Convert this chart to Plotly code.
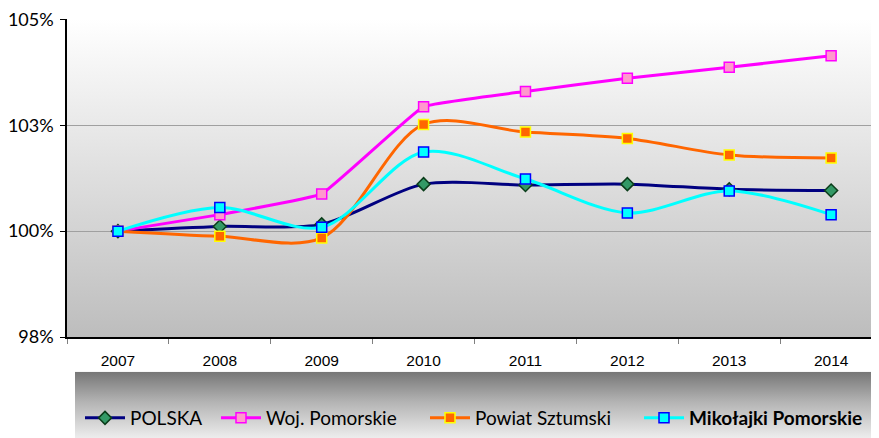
import base64
import plotly.graph_objects as go

years = ['2007', '2008', '2009', '2010', '2011', '2012', '2013', '2014']
polska = [100.0, 100.11, 100.16, 101.11, 101.09, 101.11, 100.99, 100.96]
woj_pomorskie = [100.0, 100.39, 100.88, 102.94, 103.30, 103.61, 103.87, 104.14]
powiat_sztumski = [100.0, 99.88, 99.84, 102.52, 102.34, 102.19, 101.80, 101.73]
mikolajki = [100.0, 100.56, 100.09, 101.87, 101.23, 100.43, 100.95, 100.39]

y_tickvals = [97.5, 100, 102.5, 105]
y_ticktext = ['98%', '100%', '103%', '105%']

# page body has an 8px margin; compensate so the chart fills the 879x438 window
OFF = 8
W, H = 879 - OFF, 438 - OFF
ML, MR, MT, MB = 66 - OFF, 0, 17 - OFF, 101


def grad_svg(stops):
    st = ''.join(f"<stop offset='{o}' stop-color='{c}'/>" for o, c in stops)
    svg = ("<svg xmlns='http://www.w3.org/2000/svg' width='100' height='100' preserveAspectRatio='none'>"
           "<defs><linearGradient id='g' x1='0' y1='0' x2='0' y2='1'>" + st +
           "</linearGradient></defs><rect width='100' height='100' fill='url(#g)'/></svg>")
    return 'data:image/svg+xml;base64,' + base64.b64encode(svg.encode()).decode()


fig = go.Figure()

series = [
    ('POLSKA', polska, '#000080', 'diamond', '#339966', '#0b3d1a', 0.8),
    ('Woj. Pomorskie', woj_pomorskie, '#FF00FF', 'square', '#FF99CC', '#FF00FF', 0.25),
    ('Powiat Sztumski', powiat_sztumski, '#FF6600', 'square', '#FF6600', '#FFFF00', 0.9),
    ('<b>Mikołajki Pomorskie</b>', mikolajki, '#00FFFF', 'square', '#00FFFF', '#0000FF', 0.9),
]
legend_ids = ['legend', 'legend2', 'legend3', 'legend4']
for (name, vals, lc, sym, fc, bc, sm), lid in zip(series, legend_ids):
    fig.add_trace(go.Scatter(
        x=years, y=vals, name=name, mode='lines+markers',
        line=dict(color=lc, width=3, shape='spline', smoothing=sm),
        marker=dict(symbol=sym, size=10, color=fc, line=dict(color=bc, width=1.5)),
        legend=lid,
    ))

plot_w = W - ML - MR
plot_h = H - MT - MB

images = [
    dict(source=grad_svg([(0, '#FFFFFF'), (1, '#BDBDBD')]),
         xref='paper', yref='paper', x=0, y=1, sizex=1, sizey=1,
         xanchor='left', yanchor='top', sizing='stretch', layer='below'),
    dict(source=grad_svg([(0, '#767676'), (0.45, '#B4B4B4'), (1, '#EFEFEF')]),
         xref='paper', yref='paper', x=(74 - 66) / plot_w, y=-(372 - 337) / plot_h,
         sizex=1 - (74 - 66) / plot_w, sizey=(438 - 372 + 2) / plot_h,
         xanchor='left', yanchor='top', sizing='stretch', layer='below'),
]

legend_font = dict(family='Lato, Noto Sans, sans-serif', size=19, color='#000000')
legend_x = [72, 208, 417, 631]
layout_legends = {}
for lid, lx in zip(legend_ids, legend_x):
    layout_legends[lid] = dict(
        xref='container', yref='container', x=lx / W, y=1 - (418 - OFF) / H,
        xanchor='left', yanchor='middle', orientation='h',
        bgcolor='rgba(0,0,0,0)', borderwidth=0, font=legend_font,
        itemwidth=40,
    )

fig.update_layout(
    width=W, height=H,
    margin=dict(l=ML, r=MR, t=MT, b=MB, pad=0),
    paper_bgcolor='#FFFFFF', plot_bgcolor='rgba(0,0,0,0)',
    images=images,
    showlegend=True,
    **layout_legends,
    xaxis=dict(
        type='category', range=[-0.5, 7.47], tickson='boundaries',
        ticks='outside', ticklen=5, tickcolor='#808080',
        showgrid=False, showline=True, linecolor='#000000', linewidth=1.5,
        tickfont=dict(family='Liberation Sans, Arial, sans-serif', size=15.5, color='#000000'),
        ticklabelstandoff=9,
    ),
    yaxis=dict(
        range=[97.5, 105.01], tickvals=y_tickvals, ticktext=y_ticktext,
        ticks='outside', ticklen=5, tickcolor='#000000',
        showgrid=True, gridcolor='#A0A0A0', gridwidth=1,
        showline=True, linecolor='#000000', linewidth=1.5, zeroline=False,
        tickfont=dict(family='Lato, Noto Sans, sans-serif', size=18, color='#000000'),
        ticklabelstandoff=3, ticklabeloverflow='allow',
    ),
)

fig.write_html('out.html')
